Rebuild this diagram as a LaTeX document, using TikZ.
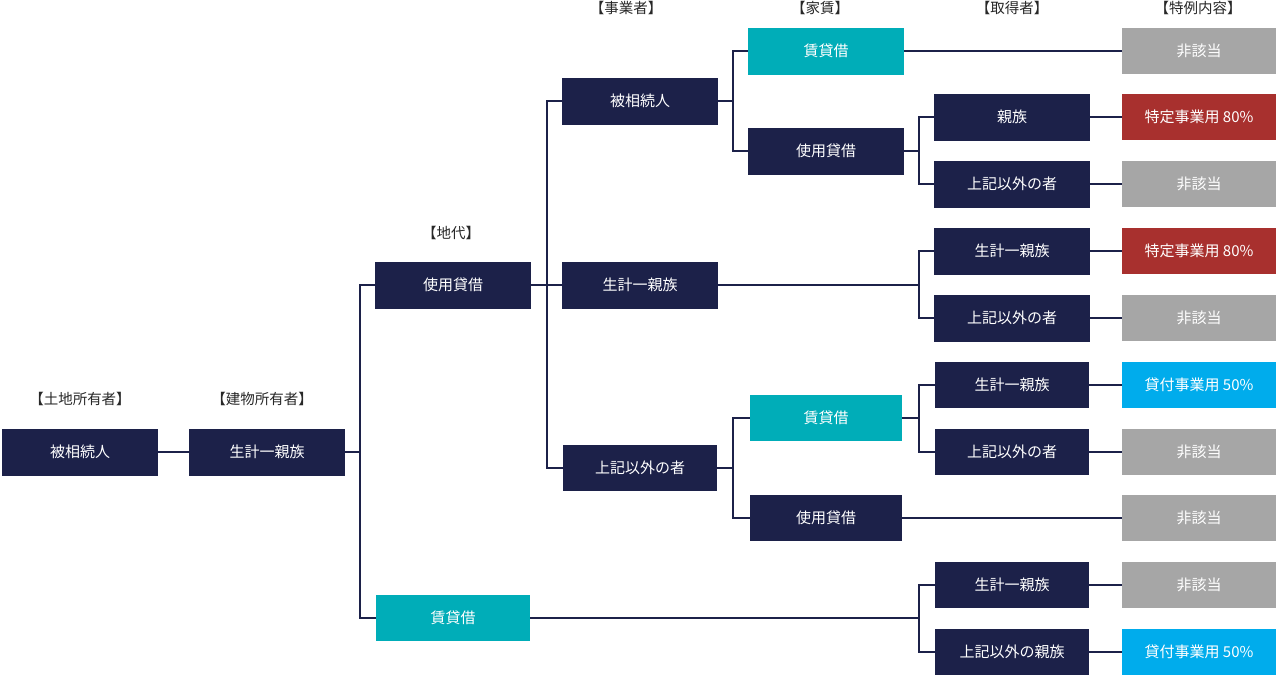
\documentclass[tikz,border=0pt]{standalone}
\usepackage{fontspec}
\setmainfont{Noto Sans CJK JP}
\definecolor{navy}{RGB}{28,33,73}
\definecolor{teal2}{RGB}{0,173,184}
\definecolor{gray2}{RGB}{166,166,166}
\definecolor{red2}{RGB}{168,48,46}
\definecolor{blue2}{RGB}{0,172,236}
\definecolor{hdr}{RGB}{40,40,40}
\begin{document}
\begin{tikzpicture}[x=1pt,y=-1pt,
  box/.style={minimum width=156pt,minimum height=47pt,inner sep=0pt,text=white,font=\fontsize{15}{17}\selectfont},
  nv/.style={box,fill=navy},
  tl/.style={box,fill=teal2},
  gy/.style={box,fill=gray2,minimum width=154pt,minimum height=46pt},
  rd/.style={box,fill=red2,minimum width=154pt,minimum height=46pt},
  bl/.style={box,fill=blue2,minimum width=154pt,minimum height=46pt},
  hd/.style={text=hdr,font=\fontsize{14.5}{16}\selectfont,inner sep=0pt},
  ln/.style={draw=navy,line width=1.4pt}]
\fill[white] (0,0) rectangle (1280,681);
\useasboundingbox (0,0) rectangle (1280,681);
% headers
\node[hd] (h1) at (80,399) {【土地所有者】};
\node[hd] (h2) at (262,399) {【建物所有者】};
\node[hd] (h3) at (451,233) {【地代】};
\node[hd] (h4) at (626,8) {【事業者】};
\node[hd] (h5) at (820,8) {【家賃】};
\node[hd] (h6) at (1012,8) {【取得者】};
\node[hd] (h7) at (1198,8) {【特例内容】};
% column 1-2
\node[nv] (a1) at (80,452) {被相続人};
\node[nv] (b1) at (267,452) {生計一親族};
% column 3
\node[nv] (c1) at (453,285) {使用貸借};
\node[tl,minimum width=154pt,minimum height=46pt] (c2) at (453,618) {賃貸借};
% column 4
\node[nv] (d1) at (640,101) {被相続人};
\node[nv] (d2) at (640,285) {生計一親族};
\node[nv,minimum width=154pt,minimum height=46pt] (d3) at (640,468) {上記以外の者};
% column 5
\node[tl] (e1) at (826,51) {賃貸借};
\node[nv] (e2) at (826,151) {使用貸借};
\node[tl,minimum width=152pt,minimum height=46pt] (e3) at (826,418) {賃貸借};
\node[nv,minimum width=152pt,minimum height=46pt] (e4) at (826,518) {使用貸借};
% column 6
\node[nv] (f1) at (1012,117) {親族};
\node[nv] (f2) at (1012,184) {上記以外の者};
\node[nv] (f3) at (1012,251) {生計一親族};
\node[nv] (f4) at (1012,318) {上記以外の者};
\node[nv,minimum width=154pt,minimum height=46pt] (f5) at (1012,385) {生計一親族};
\node[nv,minimum width=154pt,minimum height=46pt] (f6) at (1012,452) {上記以外の者};
\node[nv,minimum width=154pt,minimum height=46pt] (f7) at (1012,585) {生計一親族};
\node[nv,minimum width=154pt,minimum height=46pt] (f8) at (1012,652) {上記以外の親族};
% column 7
\node[gy] (g1) at (1199,51) {非該当};
\node[rd] (g2) at (1199,117) {特定事業用 80\%};
\node[gy] (g3) at (1199,184) {非該当};
\node[rd] (g4) at (1199,251) {特定事業用 80\%};
\node[gy] (g5) at (1199,318) {非該当};
\node[bl] (g6) at (1199,385) {貸付事業用 50\%};
\node[gy] (g7) at (1199,452) {非該当};
\node[gy] (g8) at (1199,518) {非該当};
\node[gy] (g9) at (1199,585) {非該当};
\node[bl] (g10) at (1199,652) {貸付事業用 50\%};
% junctions
\coordinate (j1) at (360,452);
\coordinate (j2) at (547,285);
\coordinate (j3) at (733,101);
\coordinate (j4) at (733,468);
\coordinate (j5) at (919,151);
\coordinate (j6) at (919,285);
\coordinate (j7) at (919,418);
\coordinate (j8) at (919,618);
% connectors
\draw[ln] (a1) -- (b1);
\draw[ln] (b1.east) -- (j1);
\draw[ln] (j1) |- (c1.west);
\draw[ln] (j1) |- (c2.west);
\draw[ln] (c1.east) -- (j2);
\draw[ln] (j2) |- (d1.west);
\draw[ln] (j2) -- (d2.west);
\draw[ln] (j2) |- (d3.west);
\draw[ln] (d1.east) -- (j3);
\draw[ln] (j3) |- (e1.west);
\draw[ln] (j3) |- (e2.west);
\draw[ln] (d3.east) -- (j4);
\draw[ln] (j4) |- (e3.west);
\draw[ln] (j4) |- (e4.west);
\draw[ln] (e2.east) -- (j5);
\draw[ln] (j5) |- (f1.west);
\draw[ln] (j5) |- (f2.west);
\draw[ln] (d2.east) -- (j6);
\draw[ln] (j6) |- (f3.west);
\draw[ln] (j6) |- (f4.west);
\draw[ln] (e3.east) -- (j7);
\draw[ln] (j7) |- (f5.west);
\draw[ln] (j7) |- (f6.west);
\draw[ln] (c2.east) -- (j8);
\draw[ln] (j8) |- (f7.west);
\draw[ln] (j8) |- (f8.west);
\draw[ln] (e1) -- (g1);
\draw[ln] (e4) -- (g8);
\draw[ln] (f1) -- (g2);
\draw[ln] (f2) -- (g3);
\draw[ln] (f3) -- (g4);
\draw[ln] (f4) -- (g5);
\draw[ln] (f5) -- (g6);
\draw[ln] (f6) -- (g7);
\draw[ln] (f7) -- (g9);
\draw[ln] (f8) -- (g10);
\end{tikzpicture}
\end{document}
